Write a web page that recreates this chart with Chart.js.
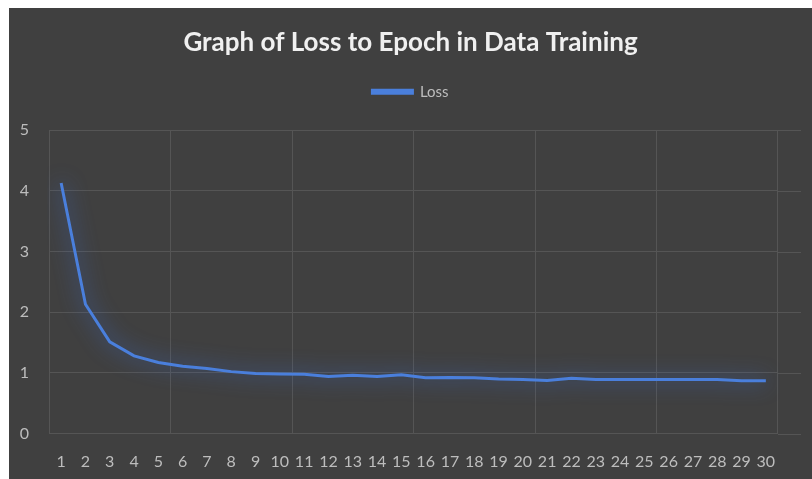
<!DOCTYPE html>
<html>
<head>
<meta charset="utf-8">
<script src="https://cdn.jsdelivr.net/npm/chart.js@4"></script>
<style>
  html, body { margin: 0; padding: 0; background: #ffffff; }
  #wrap { position: absolute; left: 9px; top: 8px; width: 803px; height: 471px; background: #404040; }
</style>
</head>
<body>
<div id="wrap"><canvas id="chart" width="803" height="471"></canvas></div>
<script>
// данные графика
const epochs = ['1','2','3','4','5','6','7','8','9','10','11','12','13','14','15',
                '16','17','18','19','20','21','22','23','24','25','26','27','28','29','30'];
const lossValues = [4.13, 2.13, 1.51, 1.28, 1.17, 1.11, 1.07, 1.02, 0.99, 0.98,
                    0.975, 0.94, 0.96, 0.94, 0.97, 0.92, 0.925, 0.92, 0.90, 0.89,
                    0.875, 0.91, 0.89, 0.89, 0.89, 0.89, 0.89, 0.89, 0.87, 0.87];
const yTicks = [0, 1, 2, 3, 4, 5];

const gridColor = '#555555';
const tickColor = '#bdbdbd';

// свечение линии + продление горизонтальной сетки вправо
const glowPlugin = {
    id: 'glow',
    beforeInit(chart) {
        // отступ под легендой
        const fit = chart.legend.fit;
        chart.legend.fit = function () {
            fit.call(this);
            this.height += 21;
        };
    },
    beforeDatasetDraw(chart) {
        chart.ctx.save();
        chart.ctx.shadowColor = 'rgba(60,115,225,0.95)';
        chart.ctx.shadowBlur = 20;
    },
    afterDatasetDraw(chart) {
        chart.ctx.restore();
    },
    beforeDatasetsDraw(chart) {
        const ctx = chart.ctx, y = chart.scales.y, area = chart.chartArea;
        ctx.save();
        ctx.strokeStyle = gridColor;
        ctx.lineWidth = 1;
        yTicks.forEach(v => {
            const py = Math.round(y.getPixelForValue(v)) + 0.5;
            ctx.beginPath();
            ctx.moveTo(area.right, py);
            ctx.lineTo(area.right + 23, py);
            ctx.stroke();
        });
        ctx.restore();
    }
};

new Chart(document.getElementById('chart'), {
    type: 'line',
    data: {
        labels: epochs,
        datasets: [{
            label: 'Loss',
            data: lossValues,
            borderColor: '#4a7fdc',
            backgroundColor: '#4a7fdc',
            borderWidth: 3,
            pointRadius: 0,
            tension: 0
        }]
    },
    options: {
        responsive: false,
        animation: false,
        layout: { padding: 0 },
        plugins: {
            title: {
                display: true,
                text: 'Graph of Loss to Epoch in Data Training',
                color: '#f0f0f0',
                font: { family: 'Lato', size: 26, weight: 'bold' },
                padding: { top: 19, bottom: 16 }
            },
            legend: {
                labels: {
                    color: tickColor,
                    font: { family: 'Lato', size: 15 },
                    boxWidth: 40,
                    boxHeight: 3,
                    padding: 10
                }
            },
            tooltip: { enabled: false }
        },
        scales: {
            x: {
                offset: true,
                grid: {
                    offset: true,
                    drawTicks: false,
                    color: c => (c.index === undefined || c.index % 5 === 0) ? gridColor : 'rgba(0,0,0,0)'
                },
                border: { display: false },
                ticks: {
                    color: tickColor,
                    font: { family: 'Lato', size: 16 },
                    padding: 19,
                    maxRotation: 0,
                    autoSkip: false
                },
                afterFit: s => { s.height = 45.5; }
            },
            y: {
                min: 0,
                max: 5,
                grid: { color: gridColor, drawTicks: false },
                border: { display: false },
                ticks: {
                    stepSize: 1,
                    color: tickColor,
                    font: { family: 'Lato', size: 16 },
                    padding: 20
                },
                afterFit: s => { s.width = 40; }
            },
            // пустая ось справа — только место
            yRight: {
                position: 'right',
                grid: { display: false },
                border: { display: false },
                ticks: { display: false },
                afterFit: s => { s.width = 34; }
            }
        }
    },
    plugins: [glowPlugin]
});
</script>
</body>
</html>
